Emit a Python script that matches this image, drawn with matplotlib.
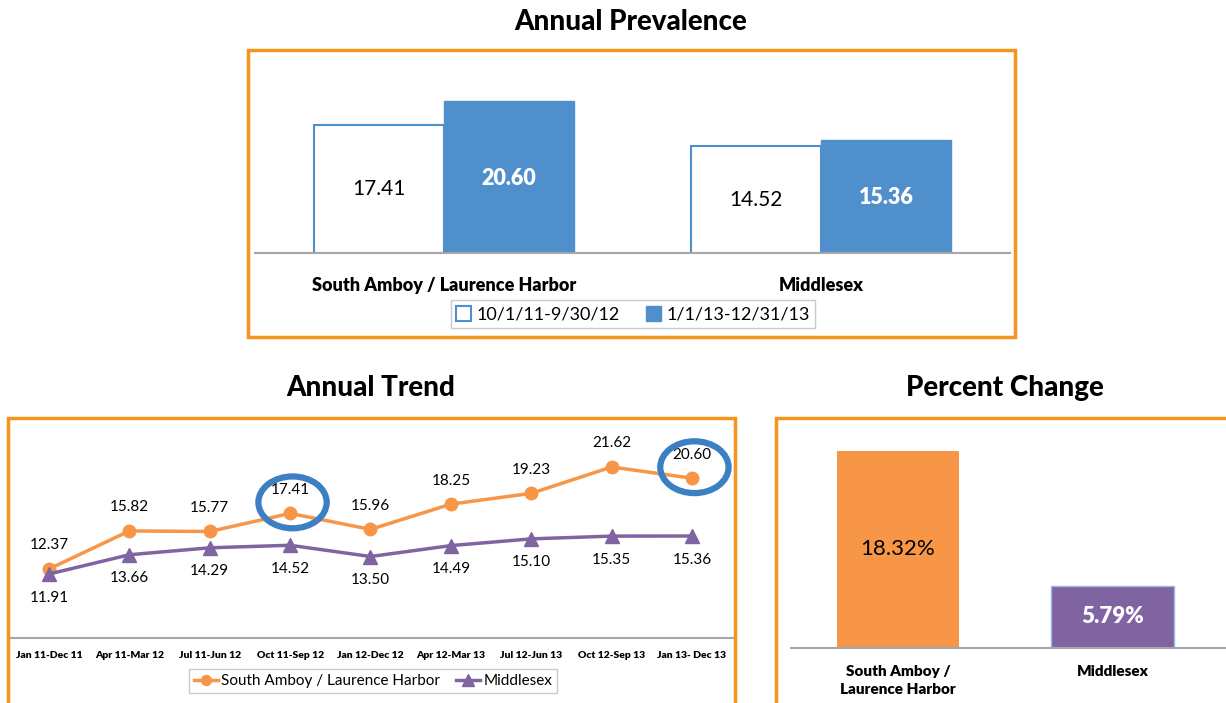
import matplotlib
matplotlib.use("Agg")
import matplotlib.pyplot as plt
from matplotlib.patches import Rectangle, Ellipse
from matplotlib.patches import Patch

# ---------------- data ----------------
prev_categories = ["South Amboy / Laurence Harbor", "Middlesex"]
prev_period1 = [17.41, 14.52]
prev_period2 = [20.60, 15.36]
prev_labels = ["10/1/11-9/30/12", "1/1/13-12/31/13"]

trend_periods = ["Jan 11-Dec 11", "Apr 11-Mar 12", "Jul 11-Jun 12", "Oct 11-Sep 12",
                 "Jan 12-Dec 12", "Apr 12-Mar 13", "Jul 12-Jun 13", "Oct 12-Sep 13",
                 "Jan 13- Dec 13"]
trend_south = [12.37, 15.82, 15.77, 17.41, 15.96, 18.25, 19.23, 21.62, 20.60]
trend_middlesex = [11.91, 13.66, 14.29, 14.52, 13.50, 14.49, 15.10, 15.35, 15.36]
trend_series = ["South Amboy / Laurence Harbor", "Middlesex"]
highlight_idx = [3, 8]

change_categories = ["South Amboy /\nLaurence Harbor", "Middlesex"]
change_values = [18.32, 5.79]

# ---------------- style ----------------
FONT = ["Lato", "DejaVu Sans"]
plt.rcParams["font.family"] = FONT
ORANGE_FRAME = "#f7941e"
BLUE = "#4f8fcc"
ORANGE = "#f79646"
PURPLE = "#8064a2"
CIRCLE = "#3d7fc3"
AXIS = "#a6a6a6"

W, H = 1226, 703
fig = plt.figure(figsize=(W / 100, H / 100), dpi=100)


def ax_px(x0, y0, x1, y1):
    return fig.add_axes([x0 / W, 1 - y1 / H, (x1 - x0) / W, (y1 - y0) / H])


def frame(x0, y0, x1, y1):
    fig.patches.append(Rectangle((x0 / W, 1 - y1 / H), (x1 - x0) / W, (y1 - y0) / H,
                                 transform=fig.transFigure, fill=False,
                                 edgecolor=ORANGE_FRAME, lw=2.5, zorder=0))


def strip(ax):
    for s in ["top", "right", "left"]:
        ax.spines[s].set_visible(False)
    ax.spines["bottom"].set_color(AXIS)
    ax.spines["bottom"].set_linewidth(1.5)
    ax.set_yticks([])
    ax.tick_params(axis="x", length=0)
    ax.patch.set_alpha(0)


# frames
frame(248, 50, 1015, 337)
frame(8, 418, 735, 720)
frame(776, 418, 1240, 720)

# titles
fig.text(631 / W, 1 - 22 / H, "Annual Prevalence", ha="center", va="center",
         fontsize=20, fontweight=900)
fig.text(371 / W, 1 - 388 / H, "Annual Trend", ha="center", va="center",
         fontsize=20, fontweight=900)
fig.text(1005 / W, 1 - 388 / H, "Percent Change", ha="center", va="center",
         fontsize=20, fontweight=900)

# ---------------- Annual Prevalence ----------------
ax1 = ax_px(255, 60, 1010, 253)
strip(ax1)
x = range(len(prev_categories))
bw = 0.344
b1 = ax1.bar([i - bw / 2 for i in x], prev_period1, width=bw, color="white",
             edgecolor=BLUE, lw=1.5, label=prev_labels[0])
b2 = ax1.bar([i + bw / 2 for i in x], prev_period2, width=bw, color=BLUE,
             edgecolor=BLUE, lw=1.0, label=prev_labels[1])
ax1.set_xlim(-0.5, 1.5)
ax1.set_ylim(0, 26.2)
ax1.set_xticks(list(x))
ax1.set_xticklabels(prev_categories, fontsize=13, fontweight="heavy")
ax1.tick_params(axis="x", pad=17)
for r, v in zip(b1, prev_period1):
    ax1.text(r.get_x() + r.get_width() / 2, v / 2, f"{v:.2f}", ha="center",
             va="center", fontsize=15, color="black")
for r, v in zip(b2, prev_period2):
    ax1.text(r.get_x() + r.get_width() / 2, v / 2 - 0.2, f"{v:.2f}", ha="center",
             va="center", fontsize=15.5, color="white", fontweight="heavy")
leg1 = fig.legend(handles=[Patch(facecolor="white", edgecolor=BLUE, lw=1.5, label=prev_labels[0]),
                           Patch(facecolor=BLUE, edgecolor=BLUE, label=prev_labels[1])],
                  loc="center", bbox_to_anchor=(633 / W, 1 - 314 / H), ncol=2,
                  fontsize=13, frameon=True, fancybox=False, edgecolor="#bfbfbf",
                  handlelength=0.8, handleheight=0.9, handletextpad=0.3,
                  columnspacing=1.5, borderpad=0.3)
leg1.get_frame().set_linewidth(1.0)

# ---------------- Annual Trend ----------------
ax2 = ax_px(8, 420, 735, 638)
strip(ax2)
xi = list(range(len(trend_periods)))
ax2.plot(xi, trend_south, color=ORANGE, lw=2.5, marker="o", ms=9,
         label=trend_series[0], zorder=3)
ax2.plot(xi, trend_middlesex, color=PURPLE, lw=2.5, marker="^", ms=10,
         label=trend_series[1], zorder=3)
ax2.set_xlim(-0.51, 8.535)
ax2.set_ylim(6.11, 25.88)
ax2.set_xticks(xi)
ax2.set_xticklabels(trend_periods, fontsize=7.5, fontweight="heavy")
ax2.tick_params(axis="x", pad=9)
for i, v in enumerate(trend_south):
    ax2.annotate(f"{v:.2f}", (i, v), xytext=(0, 17), textcoords="offset points",
                 ha="center", va="center", fontsize=11)
for i, v in enumerate(trend_middlesex):
    ax2.annotate(f"{v:.2f}", (i, v), xytext=(0, -17), textcoords="offset points",
                 ha="center", va="center", fontsize=11)
for i in highlight_idx:
    ax2.add_patch(Ellipse((i + 0.03, trend_south[i] + 1.0), width=0.85, height=4.7,
                          fill=False, edgecolor=CIRCLE, lw=4.5, zorder=4))
leg2 = ax2.legend(loc="center", bbox_to_anchor=(373 / W, 1 - 681 / H),
                  bbox_transform=fig.transFigure, ncol=2, fontsize=11,
                  frameon=True, fancybox=False, edgecolor="#bfbfbf",
                  handlelength=1.6, handletextpad=0.2, columnspacing=1.0,
                  borderpad=0.35, markerscale=0.8)
leg2.get_frame().set_linewidth(1.0)

# ---------------- Percent Change ----------------
ax3 = ax_px(791, 420, 1226, 648)
strip(ax3)
xc = list(range(len(change_categories)))
bars = ax3.bar(xc, change_values, width=0.572, color=[ORANGE, PURPLE],
               edgecolor=["none", "#9ab8dc"], lw=1.0)
ax3.set_xlim(-0.498, 1.526)
ax3.set_ylim(0, 21.2)
ax3.set_xticks(xc)
ax3.set_xticklabels(change_categories, fontsize=11, fontweight="heavy",
                    linespacing=1.5, va="top")
ax3.tick_params(axis="x", pad=12)
ax3.text(xc[0], change_values[0] / 2, f"{change_values[0]:.2f}%", ha="center",
         va="center", fontsize=16, color="black")
ax3.text(xc[1], change_values[1] / 2, f"{change_values[1]:.2f}%", ha="center",
         va="center", fontsize=16, color="white", fontweight="heavy")

fig.savefig("out.png", dpi=100)
